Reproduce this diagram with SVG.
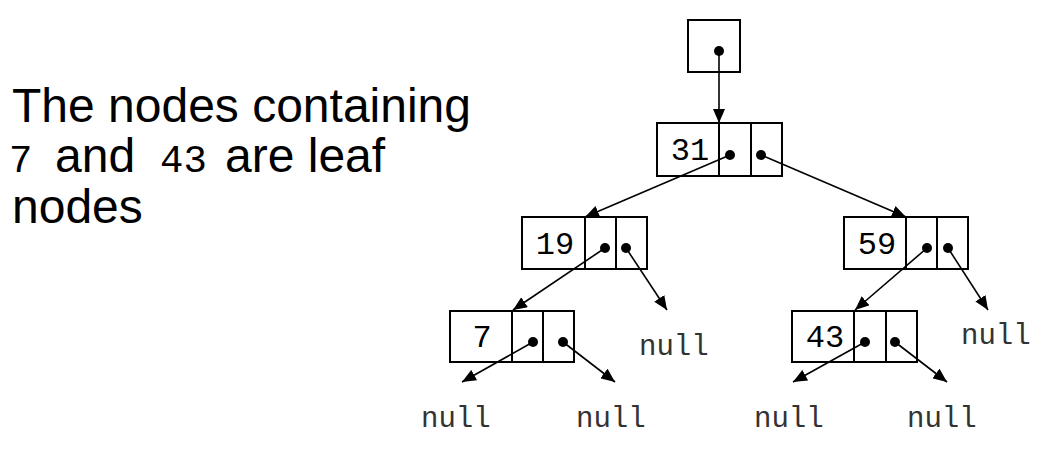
<svg xmlns="http://www.w3.org/2000/svg" width="1047" height="460" viewBox="0 0 1047 460">
<style>
.box{fill:#fff;stroke:#000;stroke-width:2}
.dot{fill:#000}
.mono{font-family:"Liberation Mono","Courier New",monospace;fill:#000}
.val{font-size:32px;text-anchor:middle}
.nul{font-size:29px;fill:#333}
.cap{font-size:39px}
.sans{font-family:"Liberation Sans",Arial,sans-serif;font-size:48px;fill:#000}
.edge{stroke:#000;stroke-width:1.6;fill:none;marker-end:url(#ah)}
</style>
<defs>
<marker id="ah" markerUnits="userSpaceOnUse" markerWidth="14" markerHeight="12" viewBox="0 0 14 12" refX="14" refY="6" orient="auto">
<path d="M0,0 L14,6 L0,12 Z" fill="#000"/>
</marker>
</defs>
<rect width="1047" height="460" fill="#fff"/>
<g id="caption">
<text class="sans" x="12" y="122">The nodes containing</text>
<text class="sans" y="172"><tspan class="mono cap" x="9">7</tspan><tspan class="sans" x="55">and</tspan><tspan class="mono cap" x="160">43</tspan><tspan class="sans" x="225">are leaf</tspan></text>
<text class="sans" x="12" y="223">nodes</text>
</g>
<g id="root">
<rect class="box" x="688" y="20" width="52" height="52"/>
<circle class="dot" cx="719" cy="51" r="5"/>
</g>
<g id="n31">
<rect class="box" x="657" y="123" width="125" height="53"/>
<line x1="719" y1="123" x2="719" y2="176" stroke="#000" stroke-width="2"/>
<line x1="751" y1="123" x2="751" y2="176" stroke="#000" stroke-width="2"/>
<text class="mono val" x="690" y="160">31</text>
<circle class="dot" cx="730" cy="155" r="5"/>
<circle class="dot" cx="761" cy="155" r="5"/>
</g>
<g id="n19">
<rect class="box" x="522" y="217" width="125" height="52"/>
<line x1="585" y1="217" x2="585" y2="269" stroke="#000" stroke-width="2"/>
<line x1="616" y1="217" x2="616" y2="269" stroke="#000" stroke-width="2"/>
<text class="mono val" x="555" y="254">19</text>
<circle class="dot" cx="605" cy="248" r="5"/>
<circle class="dot" cx="626" cy="248" r="5"/>
</g>
<g id="n59">
<rect class="box" x="844" y="217" width="124" height="52"/>
<line x1="906" y1="217" x2="906" y2="269" stroke="#000" stroke-width="2"/>
<line x1="937" y1="217" x2="937" y2="269" stroke="#000" stroke-width="2"/>
<text class="mono val" x="877" y="254">59</text>
<circle class="dot" cx="927" cy="248" r="5"/>
<circle class="dot" cx="948" cy="248" r="5"/>
</g>
<g id="n7">
<rect class="box" x="450" y="311" width="124" height="51"/>
<line x1="512" y1="311" x2="512" y2="362" stroke="#000" stroke-width="2"/>
<line x1="543" y1="311" x2="543" y2="362" stroke="#000" stroke-width="2"/>
<text class="mono val" x="482" y="347">7</text>
<circle class="dot" cx="533" cy="342" r="5"/>
<circle class="dot" cx="563" cy="342" r="5"/>
</g>
<g id="n43">
<rect class="box" x="792" y="311" width="125" height="51"/>
<line x1="854" y1="311" x2="854" y2="362" stroke="#000" stroke-width="2"/>
<line x1="886" y1="311" x2="886" y2="362" stroke="#000" stroke-width="2"/>
<text class="mono val" x="825" y="347">43</text>
<circle class="dot" cx="865" cy="342" r="5"/>
<circle class="dot" cx="895" cy="342" r="5"/>
</g>
<g id="nulls">
<text class="mono nul" x="639" y="355">null</text>
<text class="mono nul" x="961" y="344">null</text>
<text class="mono nul" x="421" y="427">null</text>
<text class="mono nul" x="576" y="427">null</text>
<text class="mono nul" x="754" y="427">null</text>
<text class="mono nul" x="907" y="427">null</text>
</g>
<g id="connectors">
<line class="edge" x1="719" y1="51" x2="719" y2="123"/>
<line class="edge" x1="730" y1="155" x2="585" y2="217"/>
<line class="edge" x1="761" y1="155" x2="906" y2="217"/>
<line class="edge" x1="605" y1="248" x2="513" y2="310"/>
<line class="edge" x1="626" y1="248" x2="667" y2="310"/>
<line class="edge" x1="927" y1="248" x2="855" y2="310"/>
<line class="edge" x1="948" y1="248" x2="988" y2="310"/>
<line class="edge" x1="533" y1="342" x2="462" y2="382"/>
<line class="edge" x1="563" y1="342" x2="615" y2="382"/>
<line class="edge" x1="865" y1="342" x2="793" y2="382"/>
<line class="edge" x1="895" y1="342" x2="947" y2="382"/>
</g>
</svg>
